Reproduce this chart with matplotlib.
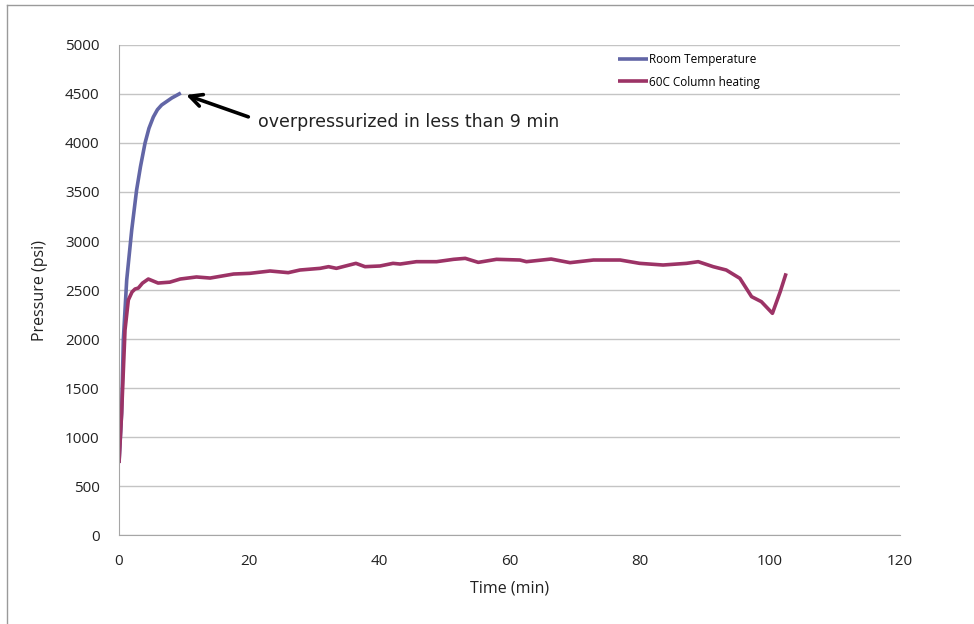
import matplotlib
matplotlib.use('Agg')
import matplotlib.pyplot as plt
from matplotlib.lines import Line2D

# data (time in min, pressure in psi)
room_t = [0.0, 0.4, 0.66, 1.18, 1.95, 2.7, 3.3, 4.0, 4.6, 5.27, 5.9, 6.55, 8.1, 9.5]
room_p = [735, 1245, 1990, 2602, 3112, 3520, 3760, 4000, 4150, 4265, 4340, 4388, 4459, 4510]

heat_t = [0.0, 0.4, 0.92, 1.43, 2.0, 2.46, 2.97, 3.6, 4.5, 6.0, 7.8, 9.4, 11.9, 14.0, 17.6,
          20.1, 23.2, 26.0, 27.8, 30.9, 32.2, 33.4, 36.4, 37.8, 40.1, 42.1, 43.2,
          45.7, 48.8, 51.4, 53.2, 55.2, 58.0, 61.6, 62.6, 66.4, 69.3, 72.9, 77.0,
          80.0, 83.6, 87.2, 89.0, 91.3, 93.3, 95.4, 97.2, 98.7, 100.4, 101.6, 102.5]
heat_p = [735, 1245, 2092, 2398, 2480, 2510, 2520, 2570, 2612, 2571, 2580, 2612, 2633, 2622, 2663,
          2670, 2694, 2677, 2704, 2721, 2738, 2721, 2772, 2738, 2745, 2772, 2765,
          2789, 2789, 2813, 2823, 2782, 2813, 2806, 2789, 2816, 2779, 2806, 2806,
          2772, 2755, 2772, 2789, 2738, 2704, 2619, 2432, 2381, 2262, 2483, 2670]

x_ticks = [0, 20, 40, 60, 80, 100, 120]
y_ticks = [0, 500, 1000, 1500, 2000, 2500, 3000, 3500, 4000, 4500, 5000]

tick_font = 'Open Sans'

fig = plt.figure(figsize=(9.74, 6.24), dpi=100)
ax = fig.add_axes([0.1222, 0.1426, 0.8018, 0.7853])

ax.plot(room_t, room_p, color='#6266a6', lw=2.6, label='Room Temperature', solid_capstyle='butt')
ax.plot(heat_t, heat_p, color='#9c3366', lw=2.6, label='60C Column heating', solid_capstyle='butt')

ax.set_xlim(0, 120)
ax.set_ylim(0, 5000)
ax.set_xticks(x_ticks)
ax.set_yticks(y_ticks)
ax.grid(axis='y', color='#c4c4c4', lw=1)
ax.set_axisbelow(True)
for s in ['top', 'right']:
    ax.spines[s].set_visible(False)
for s in ['left', 'bottom']:
    ax.spines[s].set_color('#a6a6a6')
ax.tick_params(length=0, labelsize=11, colors='#222222', pad=14)
for lab in ax.get_xticklabels() + ax.get_yticklabels():
    lab.set_family(tick_font)

ax.set_xlabel('Time (min)', fontsize=11.5, family=tick_font, color='#222222', labelpad=8)
ax.set_ylabel('Pressure (psi)', fontsize=11.5, family=tick_font, color='#222222', labelpad=12)

ax.annotate('overpressurized in less than 9 min', xy=(10.3, 4490), xytext=(21.3, 4215),
            fontsize=12.5, color='#222222', ha='left', va='center',
            arrowprops=dict(arrowstyle='->,head_length=0.7,head_width=0.35', lw=2.6,
                            color='black', relpos=(0, 0.6), shrinkA=5, shrinkB=0))

ax.legend(loc='upper left', bbox_to_anchor=(0.624, 0.932), bbox_transform=fig.transFigure,
          frameon=False, prop={'family': tick_font, 'size': 8.5},
          handlelength=2.5, handletextpad=0.1, labelspacing=0.8)

# outer chart border (left and top visible)
fig.add_artist(Line2D([7 / 974, 7 / 974], [0, 1 - 5 / 624], color='#9a9a9a', lw=1))
fig.add_artist(Line2D([7 / 974, 1], [1 - 5 / 624, 1 - 5 / 624], color='#9a9a9a', lw=1))

fig.savefig('out.png', dpi=100)
